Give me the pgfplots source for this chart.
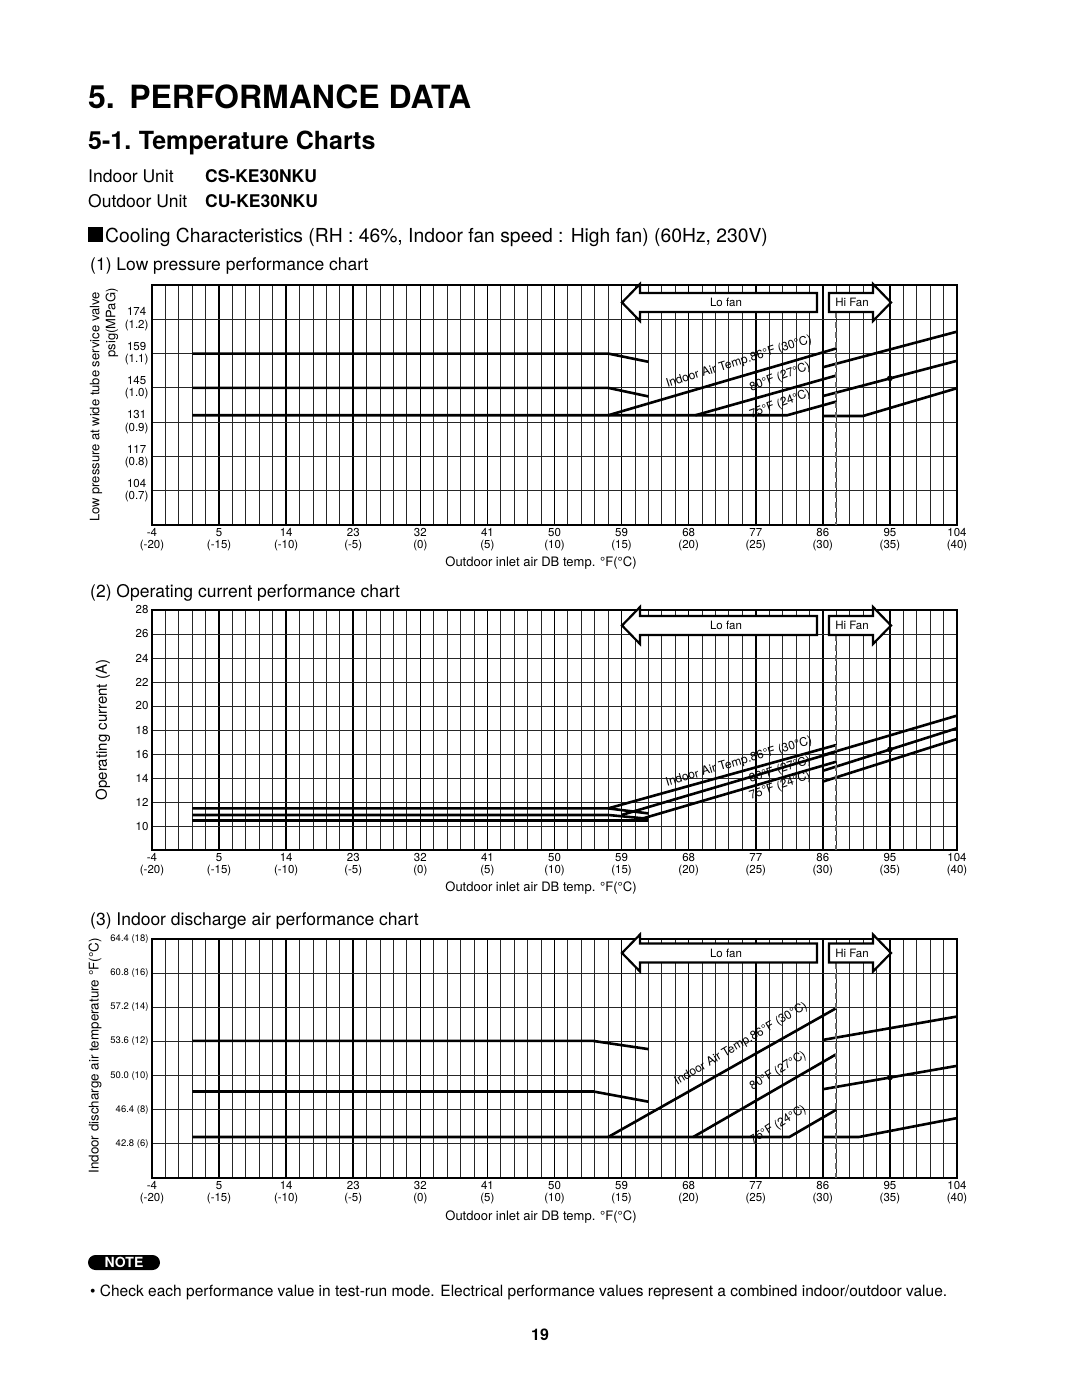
\documentclass[border=0pt]{standalone}
\usepackage{fontspec}
\setmainfont{TeX Gyre Heros}
\usepackage{pgfplots}
\pgfplotsset{compat=1.18}

\newcommand\fs[2]{\fontsize{#1}{#2}\selectfont}

\pgfplotsset{
  perf/.style={
    scale only axis, width=805pt, anchor=south west, clip=false,
    xmin=-4, xmax=104,
    xtick={-4,5,14,23,32,41,50,59,68,77,86,95,104},
    xticklabels={{-4\\(-20)},{5\\(-15)},{14\\(-10)},{23\\(-5)},{32\\(0)},{41\\(5)},
                 {50\\(10)},{59\\(15)},{68\\(20)},{77\\(25)},{86\\(30)},{95\\(35)},{104\\(40)}},
    minor x tick num=4,
    grid=both,
    major x grid style={black, line width=1.6pt},
    minor x grid style={black!85, line width=0.9pt},
    major y grid style={black!85, line width=1pt},
    major tick length=0pt, minor tick length=0pt,
    axis line style={black, line width=1.6pt},
    xticklabel style={align=center, font=\fs{11.5}{12}},
  },
  dline/.style={black, line width=2.6pt, no marks},
  dot/.style={black, only marks, mark=*, mark size=2.6pt},
}

% arrows "Lo fan" / "Hi Fan" and the dashed divider; #1 = centre y, #2 = axis bottom y
\newcommand\fanarrows[2]{%
  \begin{scope}[shift={(0pt,-#1pt)}, x=1pt, y=1pt]
    \draw[black!60, line width=1.4pt, dash pattern=on 6pt off 4pt] (836,-9.5) -- (836,{-(#2-#1)});
    \draw[line width=2.2pt, fill=white, line join=miter]
      (817,9.5) -- (640,9.5) -- (640,18.5) -- (622,0) -- (640,-18.5) -- (640,-9.5) -- (817,-9.5) -- cycle;
    \draw[line width=2.2pt, fill=white, line join=miter]
      (829,9.5) -- (873,9.5) -- (873,18.5) -- (891,0) -- (873,-18.5) -- (873,-9.5) -- (829,-9.5) -- cycle;
    \node[font=\fs{11.5}{12}] at (726,0) {Lo fan};
    \node[font=\fs{11.5}{12}] at (852,0) {Hi Fan};
  \end{scope}}

\begin{document}
\begin{tikzpicture}
\path[use as bounding box] (0pt,0pt) rectangle (1080pt,-1397pt);

% ---- headings
\node[anchor=base west, inner sep=0pt, font=\fs{32}{32}\bfseries] at (88pt,-108pt) {5.\hspace{0.45em}PERFORMANCE DATA};
\node[anchor=base west, inner sep=0pt, font=\fs{25}{25}\bfseries] at (88pt,-149pt) {5-1.\hspace{0.3em}Temperature Charts};
\node[anchor=base west, inner sep=0pt, font=\fs{17.5}{18}] at (88pt,-182pt) {Indoor Unit};
\node[anchor=base west, inner sep=0pt, font=\fs{17.5}{18}\bfseries] at (205pt,-182pt) {CS-KE30NKU};
\node[anchor=base west, inner sep=0pt, font=\fs{17.5}{18}] at (88pt,-207pt) {Outdoor Unit};
\node[anchor=base west, inner sep=0pt, font=\fs{17.5}{18}\bfseries] at (205pt,-207pt) {CU-KE30NKU};
\node[anchor=base west, inner sep=0pt, font=\fs{19.3}{19.3}] at (88pt,-242pt)
  {\rule{15pt}{15pt}\hspace{2pt}Cooling Characteristics (RH : 46\%, Indoor fan speed : High fan) (60Hz, 230V)};
\node[anchor=base west, inner sep=0pt, font=\fs{17.5}{18}] at (90pt,-270pt) {(1) Low pressure performance chart};
\node[anchor=base west, inner sep=0pt, font=\fs{17.5}{18}] at (90pt,-597pt) {(2) Operating current performance chart};
\node[anchor=base west, inner sep=0pt, font=\fs{17.5}{18}] at (90pt,-925pt) {(3) Indoor discharge air performance chart};

% ---- (1) low pressure
\begin{axis}[perf, at={(152pt,-525pt)}, height=240pt,
  ymin=0.6, ymax=1.3, ytick={0.7,0.8,0.9,1.0,1.1,1.2},
  yticklabels={{104\\(0.7)},{117\\(0.8)},{131\\(0.9)},{145\\(1.0)},{159\\(1.1)},{174\\(1.2)}},
  yticklabel style={align=center, font=\fs{11.5}{12.5}},
]
\addplot[dline] coordinates {(1.4,1.1) (57.2,1.1) (62.6,1.076)};
\addplot[dline] coordinates {(1.4,1.0) (57.2,1.0) (62.6,0.975)};
\addplot[dline] coordinates {(1.4,0.92) (81.2,0.92) (87.8,0.96)};
\addplot[dline] coordinates {(57.2,0.92) (87.8,1.115)};
\addplot[dline] coordinates {(68.9,0.92) (87.8,1.036)};
\addplot[dline] coordinates {(86,1.06) (104,1.164)};
\addplot[dline] coordinates {(86,0.976) (104,1.079)};
\addplot[dline] coordinates {(86,0.918) (91.4,0.918) (104,0.999)};
\addplot[dot] coordinates {(95,1.028)};
\end{axis}
\fanarrows{302.5}{525}
\node[rotate=90, font=\fs{13}{13}] at (96pt,-407pt) {Low pressure at wide tube service valve};
\node[rotate=90, anchor=east, font=\fs{13}{13}] at (112pt,-285pt) {psig(MPaG)};
\node[font=\fs{13}{13}] at (541pt,-563pt) {Outdoor inlet air DB temp. °F(°C)};
\node[rotate=17.5, font=\fs{12}{12}] at (739pt,-362pt) {Indoor Air Temp.86°F (30°C)};
\node[rotate=20.4, font=\fs{12}{12}] at (780pt,-377pt) {80°F (27°C)};
\node[rotate=20.4, font=\fs{12}{12}] at (780pt,-404pt) {75°F (24°C)};

% ---- (2) operating current
\begin{axis}[perf, at={(152pt,-850pt)}, height=240pt,
  ymin=8, ymax=28, ytick={10,12,...,28},
  yticklabel style={font=\fs{11.5}{12}},
  /pgf/number format/assume math mode=true,
]
\addplot[dline] coordinates {(1.4,11.47) (57.2,11.47) (62.6,11.05)};
\addplot[dline] coordinates {(1.4,10.92) (57.2,10.92) (62.6,10.6)};
\addplot[dline] coordinates {(1.4,10.44) (62.6,10.44)};
\addplot[dline] coordinates {(57.2,11.47) (87.8,16.75)};
\addplot[dline] coordinates {(59.0,10.92) (87.8,16.19)};
\addplot[dline] coordinates {(60.8,10.44) (87.8,15.36)};
\addplot[dline] coordinates {(86,15.9) (104,19.2)};
\addplot[dline] coordinates {(86,14.6) (104,18.15)};
\addplot[dline] coordinates {(86,13.7) (104,17.25)};
\addplot[dot] coordinates {(95,16.38)};
\end{axis}
\fanarrows{625.5}{850}
\node[rotate=90, font=\fs{15}{15}] at (103pt,-730pt) {Operating current (A)};
\node[font=\fs{13}{13}] at (541pt,-888pt) {Outdoor inlet air DB temp. °F(°C)};
\node[rotate=16.4, font=\fs{12}{12}] at (739pt,-762pt) {Indoor Air Temp.86°F (30°C)};
\node[rotate=17.9, font=\fs{12}{12}] at (780pt,-770pt) {80°F (27°C)};
\node[rotate=18.7, font=\fs{12}{12}] at (780pt,-786pt) {75°F (24°C)};

% ---- (3) indoor discharge air
\begin{axis}[perf, at={(152pt,-1178pt)}, height=239pt,
  ymin=4, ymax=18, ytick={6,8,...,18},
  yticklabels={{42.8 (6)},{46.4 (8)},{50.0 (10)},{53.6 (12)},{57.2 (14)},{60.8 (16)},{64.4 (18)}},
  yticklabel style={font=\fs{9.5}{10}},
]
\addplot[dline] coordinates {(1.4,12.03) (55.2,12.03) (62.6,11.55)};
\addplot[dline] coordinates {(1.4,9.07) (55.2,9.07) (62.6,8.47)};
\addplot[dline] coordinates {(1.4,6.4) (81.5,6.4) (87.8,8.0)};
\addplot[dline] coordinates {(57.2,6.4) (87.8,13.95)};
\addplot[dline] coordinates {(68.6,6.4) (87.8,11.25)};
\addplot[dline] coordinates {(86,12.09) (104,13.46)};
\addplot[dline] coordinates {(86,9.2) (104,10.57)};
\addplot[dline] coordinates {(86,6.4) (90.8,6.4) (104,7.51)};
\addplot[dot] coordinates {(95,9.89)};
\end{axis}
\fanarrows{953}{1178}
\node[rotate=90, font=\fs{13.4}{13.4}] at (95pt,-1056pt) {Indoor discharge air temperature °F(°C)};
\node[font=\fs{13}{13}] at (541pt,-1217pt) {Outdoor inlet air DB temp. °F(°C)};
\node[rotate=30.6, font=\fs{12}{12}] at (741pt,-1044pt) {Indoor Air Temp.86°F (30°C)};
\node[rotate=31.5, font=\fs{12}{12}] at (778pt,-1071pt) {80°F (27°C)};
\node[rotate=31.5, font=\fs{12}{12}] at (778pt,-1125pt) {75°F (24°C)};

% ---- note
\node[fill=black, rounded corners=7.5pt, minimum width=72pt, minimum height=15pt, inner sep=0pt,
      text=white, font=\fs{14}{14}\bfseries] at (124pt,-1262.5pt) {NOTE};
\node[anchor=base west, inner sep=0pt, font=\fs{15.5}{15.5}] at (90pt,-1296pt)
  {\textbullet\ Check each performance value in test-run mode. Electrical performance values represent a combined indoor/outdoor value.};
\node[font=\fs{16}{16}\bfseries] at (540pt,-1335pt) {19};
\end{tikzpicture}
\end{document}
